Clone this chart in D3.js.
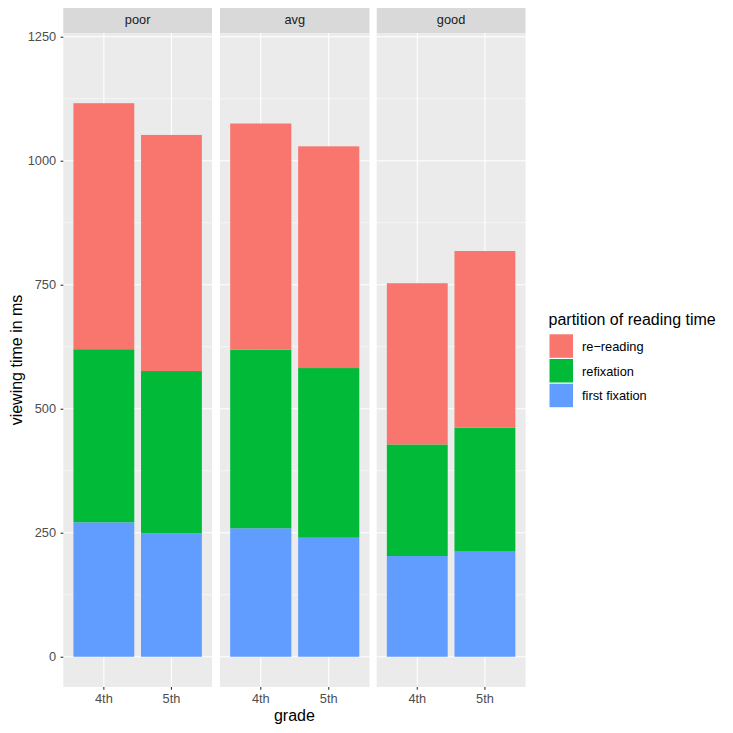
<!DOCTYPE html>
<html><head><meta charset="utf-8">
<script src="https://cdn.jsdelivr.net/npm/d3@7"></script>
<style>body{margin:0;background:#fff}svg{display:block}text{font-family:"Liberation Sans",Arial,sans-serif}</style>
</head><body><svg id="c" width="733" height="733"></svg>
<script>
const panels = ["poor","avg","good"];
const grades = ["4th","5th"];
const parts = ["first fixation","refixation","re−reading"];
const legendOrder = ["re−reading","refixation","first fixation"];
const colors = ["#619CFF","#00BA38","#F8766D"];
// segment values: [first fixation, refixation, re-reading]
const firstFix = {poor:[271,249], avg:[259,240], good:[203,212]};
const refix    = {poor:[349,327], avg:[360,342], good:[225,250]};
const reread   = {poor:[496,476], avg:[456,447], good:[325,356]};
const yTicks = [0,250,500,750,1000,1250];
const yMinor = [125,375,625,875,1125];

const svg = d3.select("#c");
const plotTop = 33, plotBottom = 687;
const panelX = [[63.3,212],[220,369.5],[376.7,525.5]];
const y = d3.scaleLinear().domain([-61, 1257.5]).range([plotBottom, plotTop]);
const small = 12.8, big = 16;

panels.forEach((p,pi)=>{
  const [x0,x1] = panelX[pi];
  const x = d3.scaleBand().domain(grades).range([x0,x1]).paddingInner(0.1).paddingOuter(0.15);
  svg.append("rect").attr("x",x0).attr("y",8).attr("width",x1-x0).attr("height",plotTop-8).attr("fill","#D9D9D9");
  svg.append("text").attr("x",(x0+x1)/2).attr("y",23.6).attr("text-anchor","middle")
    .attr("font-size",small).attr("fill","#1A1A1A").text(p);
  svg.append("rect").attr("x",x0).attr("y",plotTop).attr("width",x1-x0).attr("height",plotBottom-plotTop).attr("fill","#EBEBEB");
  const g = svg.append("g");
  yMinor.forEach(v=>g.append("line").attr("x1",x0).attr("x2",x1).attr("y1",y(v)).attr("y2",y(v)).attr("stroke","#fff").attr("stroke-width",0.55));
  yTicks.forEach(v=>g.append("line").attr("x1",x0).attr("x2",x1).attr("y1",y(v)).attr("y2",y(v)).attr("stroke","#fff").attr("stroke-width",1.1));
  grades.forEach(gr=>{
    const cx = x(gr)+x.bandwidth()/2;
    g.append("line").attr("x1",cx).attr("x2",cx).attr("y1",plotTop).attr("y2",plotBottom).attr("stroke","#fff").attr("stroke-width",1.1);
  });
  grades.forEach((gr,gi)=>{
    const vals = [firstFix[p][gi], refix[p][gi], reread[p][gi]];
    let cum = 0;
    vals.forEach((v,k)=>{
      g.append("rect").attr("x",x(gr)).attr("width",x.bandwidth())
        .attr("y",y(cum+v)).attr("height",y(cum)-y(cum+v)).attr("fill",colors[k]);
      cum += v;
    });
  });
  const ax = svg.append("g").attr("transform",`translate(0,${plotBottom})`)
    .call(d3.axisBottom(x).tickSize(2.7).tickPadding(4.5));
  ax.select(".domain").remove();
  ax.selectAll("line").attr("stroke","#333").attr("stroke-width",1.1);
  ax.selectAll("text").attr("font-size",small).attr("fill","#4D4D4D");
});

const ay = svg.append("g").attr("transform",`translate(${panelX[0][0]},0)`)
  .call(d3.axisLeft(y).tickValues(yTicks).tickFormat(d3.format("d")).tickSize(2.7).tickPadding(4.5));
ay.select(".domain").remove();
ay.selectAll("line").attr("stroke","#333").attr("stroke-width",1.1);
ay.selectAll("text").attr("font-size",small).attr("fill","#4D4D4D");

svg.append("text").attr("x",(panelX[0][0]+panelX[2][1])/2).attr("y",721).attr("text-anchor","middle")
  .attr("font-size",big).attr("fill","#000").text("grade");
svg.append("text").attr("transform",`translate(22,${(plotTop+plotBottom)/2}) rotate(-90)`).attr("text-anchor","middle")
  .attr("font-size",big).attr("fill","#000").text("viewing time in ms");

const lg = svg.append("g");
lg.append("text").attr("x",548.5).attr("y",324.5).attr("font-size",big).attr("fill","#000").text("partition of reading time");
legendOrder.forEach((name,i)=>{
  const k = parts.indexOf(name);
  const yy = 334.3 + i*24.7;
  lg.append("rect").attr("x",549.5).attr("y",yy).attr("width",23.5).attr("height",23.5).attr("fill",colors[k]);
  lg.append("text").attr("x",582).attr("y",yy+16.5).attr("font-size",small).attr("fill","#000").text(name);
});
</script></body></html>
